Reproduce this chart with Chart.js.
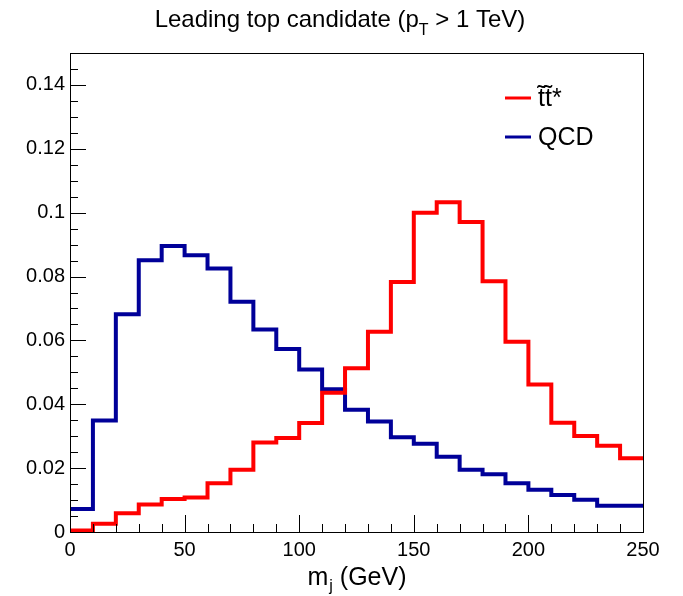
<!DOCTYPE html>
<html>
<head>
<meta charset="utf-8">
<script src="https://cdn.jsdelivr.net/npm/chart.js@4.4.1/dist/chart.umd.min.js"></script>
<style>
  html, body { margin: 0; padding: 0; background: #fff; }
  #wrap { width: 683px; height: 596px; }
</style>
</head>
<body>
<div id="wrap"><canvas id="histChart" width="683" height="596"></canvas></div>
<script>
// bin edges in GeV (25 bins of 10 GeV)
const binEdges = [0, 10, 20, 30, 40, 50, 60, 70, 80, 90, 100, 110, 120, 130, 140, 150,
  160, 170, 180, 190, 200, 210, 220, 230, 240, 250];

const stopValues = [0.0005, 0.0026, 0.0059, 0.0086, 0.0103, 0.0108, 0.0153, 0.0195, 0.0280, 0.0294,
  0.0341, 0.0436, 0.0513, 0.0627, 0.0783, 0.1000, 0.1033, 0.0971, 0.0785, 0.0596,
  0.0462, 0.0342, 0.0301, 0.0270, 0.0231];

const qcdValues = [0.0072, 0.0349, 0.0682, 0.0851, 0.0896, 0.0867, 0.0825, 0.0721, 0.0634, 0.0573,
  0.0509, 0.0447, 0.0383, 0.0346, 0.0297, 0.0276, 0.0236, 0.0195, 0.0181, 0.0153,
  0.0132, 0.0116, 0.0101, 0.0082, 0.0082];

const seriesLabels = ["t\u0303t\u0303*", "QCD"];
const seriesColors = ["#ff0000", "#000099"];

const yMax = 0.15;
const xTickStep = 50;
const yTickStep = 0.02;

// turn bin contents into step points (last edge repeats last bin)
function toSteps(values) {
  return binEdges.map((x, i) => ({ x: x, y: values[Math.min(i, values.length - 1)] }));
}

const FONT = "'Liberation Sans', Arial, Helvetica, sans-serif";

// ROOT-like frame, inward ticks, titles and legend
const rootStyle = {
  id: "rootStyle",
  afterDraw(chart) {
    const ctx = chart.ctx;
    const a = chart.chartArea;
    const xs = chart.scales.x, ys = chart.scales.y;
    ctx.save();
    ctx.strokeStyle = "#000";
    ctx.lineWidth = 1;
    ctx.strokeRect(Math.round(a.left) + 0.5, Math.round(a.top) + 0.5,
      Math.round(a.right - a.left), Math.round(a.bottom - a.top));

    ctx.beginPath();
    // y ticks
    for (let k = 0; k <= 30; k++) {
      const v = k * 0.005;
      if (v > yMax + 1e-9) break;
      const py = Math.round(ys.getPixelForValue(v)) + 0.5;
      const len = (k % 4 === 0) ? 16 : 8;
      ctx.moveTo(a.left, py);
      ctx.lineTo(a.left + len, py);
    }
    // x ticks
    for (let v = 0; v <= 250; v += 10) {
      const px = Math.round(xs.getPixelForValue(v)) + 0.5;
      const len = (v % 50 === 0) ? 17 : 8;
      ctx.moveTo(px, a.bottom);
      ctx.lineTo(px, a.bottom - len);
    }
    ctx.stroke();

    ctx.fillStyle = "#000";
    ctx.textBaseline = "alphabetic";

    // title with subscript
    const tFont = "24px " + FONT, sFont = "16px " + FONT;
    const t1 = "Leading top candidate (p", t2 = "T", t3 = " > 1 TeV)";
    ctx.font = tFont;
    const w1 = ctx.measureText(t1).width, w3 = ctx.measureText(t3).width;
    ctx.font = sFont;
    const w2 = ctx.measureText(t2).width;
    let x0 = 340 - (w1 + w2 + w3) / 2;
    ctx.font = tFont; ctx.textAlign = "left";
    ctx.fillText(t1, x0, 27);
    ctx.font = sFont;
    ctx.fillText(t2, x0 + w1, 35);
    ctx.font = tFont;
    ctx.fillText(t3, x0 + w1 + w2, 27);

    // x axis title
    const aFont = "25px " + FONT, asFont = "16px " + FONT;
    ctx.font = aFont;
    const m1 = ctx.measureText("m").width, m3 = ctx.measureText(" (GeV)").width;
    ctx.font = asFont;
    const m2 = ctx.measureText("j").width;
    x0 = (a.left + a.right) / 2 - (m1 + m2 + m3) / 2;
    ctx.font = aFont;
    ctx.fillText("m", x0, 585);
    ctx.font = asFont;
    ctx.fillText("j", x0 + m1 + 1, 591);
    ctx.font = aFont;
    ctx.fillText(" (GeV)", x0 + m1 + m2 + 1, 585);

    // legend
    const legY = [98, 137];
    ctx.font = "25px " + FONT;
    seriesLabels.forEach((lab, i) => {
      ctx.strokeStyle = seriesColors[i];
      ctx.lineWidth = 3;
      ctx.beginPath();
      ctx.moveTo(505, legY[i]);
      ctx.lineTo(531, legY[i]);
      ctx.stroke();
      ctx.fillText(lab, 538, legY[i] + 8);
    });
    ctx.restore();
  }
};

new Chart(document.getElementById("histChart").getContext("2d"), {
  type: "line",
  data: {
    datasets: [
      {
        label: seriesLabels[0],
        data: toSteps(stopValues),
        borderColor: seriesColors[0],
        borderWidth: 4,
        stepped: true,
        pointRadius: 0,
        fill: false
      },
      {
        label: seriesLabels[1],
        data: toSteps(qcdValues),
        borderColor: seriesColors[1],
        borderWidth: 4,
        stepped: true,
        pointRadius: 0,
        fill: false
      }
    ]
  },
  options: {
    responsive: false,
    devicePixelRatio: 1,
    animation: false,
    layout: { padding: { left: 0, right: 40, top: 53, bottom: 0 } },
    plugins: {
      legend: { display: false },
      tooltip: { enabled: false },
      title: { display: false }
    },
    scales: {
      x: {
        type: "linear",
        min: 0,
        max: 250,
        grid: { display: false, drawTicks: false },
        border: { display: false },
        ticks: {
          stepSize: xTickStep,
          padding: 6,
          maxRotation: 0,
          color: "#000",
          font: { family: FONT, size: 20 }
        },
        afterFit(scale) { scale.height = 64; }
      },
      y: {
        min: 0,
        max: yMax,
        grid: { display: false, drawTicks: false },
        border: { display: false },
        ticks: {
          stepSize: yTickStep,
          includeBounds: false,
          padding: 5,
          color: "#000",
          font: { family: FONT, size: 20 },
          callback: v => String(+v.toFixed(2))
        },
        afterFit(scale) { scale.width = 70; }
      }
    }
  },
  plugins: [rootStyle]
});
</script>
</body>
</html>
